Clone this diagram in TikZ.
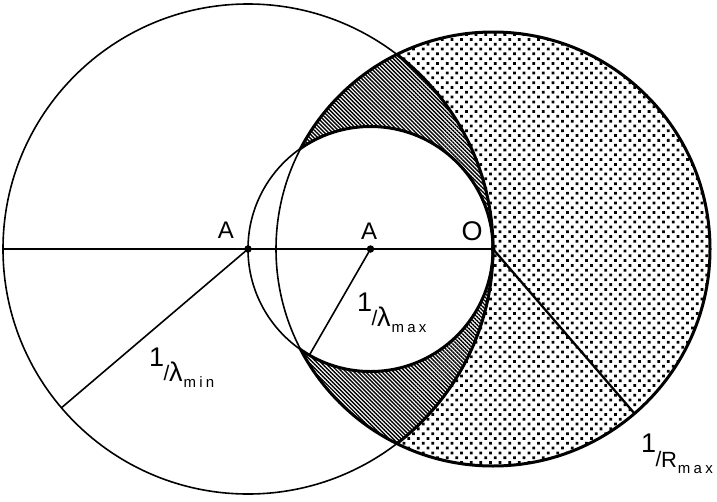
\documentclass[tikz,border=0pt]{standalone}
\usepackage{fontspec}
\setmainfont{Liberation Sans}
\usetikzlibrary{patterns.meta}
\newcommand\myrecip[3]{{\fontsize{27}{27}\selectfont\raisebox{15pt}{1}}\kern-0.5pt{\fontsize{21}{21}\selectfont\raisebox{1pt}{/}}\kern-0.5pt{\fontsize{#3}{#3}\selectfont #1}\kern1pt\raisebox{-6pt}{\fontsize{15}{15}\selectfont\addfontfeature{LetterSpace=22}#2}}
\begin{document}
\begin{tikzpicture}[x=1pt,y=-1pt,
  thinline/.style={line width=1.6pt},
  thickline/.style={line width=3pt},
  pointdot/.style={circle,fill=black,inner sep=0pt,minimum size=7.5pt},
  lbl/.style={inner sep=0pt},
  dotfill/.style={pattern={Dots[distance=6.8pt,radius=1.95pt,angle=45]}},
  hatchfill/.style={pattern={Lines[angle=-45,distance=2.8pt,line width=1.4pt]}}]
\useasboundingbox (0,0) rectangle (717,501);
\def\rL{245pt}\def\rS{122.5pt}\def\rR{217pt}
\coordinate (A1) at (248,249);
\coordinate (A2) at (370.5,249);
\coordinate (O) at (493,249);
% dotted region: inside R, outside L
\begin{scope}
  \clip (O) circle (\rR);
  \path[dotfill,even odd rule] (O) circle (\rR) (A1) circle (\rL);
\end{scope}
% hatched region: inside R and L, outside S
\begin{scope}
  \clip (O) circle (\rR);
  \clip (A1) circle (\rL);
  \path[hatchfill,even odd rule] (A1) circle (\rL) (A2) circle (\rS);
\end{scope}
% circles
\draw[thinline] (A1) circle (\rL);
\draw[thinline] (A2) circle (\rS);
\begin{scope}
  \clip (O) circle (\rR);
  \draw[thickline] (A1) circle (\rL);
  \draw[thickline] (A2) circle (\rS);
\end{scope}
\begin{scope}[even odd rule]
  \clip (-20,-20) rectangle (740,520) (A2) circle (\rS);
  \draw[thickline] (O) circle (\rR);
\end{scope}
\begin{scope}
  \clip (A2) circle (\rS);
  \draw[thinline] (O) circle (\rR);
\end{scope}
% points
\node[pointdot] (a1) at (A1) {};
\node[pointdot] (a2) at (A2) {};
\node[pointdot,minimum size=5pt] (o) at (O) {};
\coordinate (Lw) at (4,249);
\coordinate (Pmin) at (61.4,407.8);
\coordinate (Pmax) at (309.3,355.2);
\coordinate (PR) at (634.5,413.5);
\draw[thinline] (Lw) -- (o.center);
\draw[thinline] (a1.center) -- (Pmin);
\draw[thinline] (a2.center) -- (Pmax);
\draw[line width=2.3pt] (o.center) -- (PR);
% labels
\node[lbl] (tA1) at (226,230) {\fontsize{24}{24}\selectfont A};
\node[lbl] (tA2) at (369,231.5) {\fontsize{24}{24}\selectfont A};
\node[lbl] (tO) at (472,231) {\fontsize{27}{27}\selectfont O};
\node[lbl,anchor=base west] (tmin) at (149,381) {\myrecip{λ}{min}{27}};
\node[lbl,anchor=base west] (tmax) at (357,326) {\myrecip{λ}{max}{27}};
\node[lbl,anchor=base west] (tR) at (641,467) {\myrecip{R}{max}{22}};
\end{tikzpicture}
\end{document}
